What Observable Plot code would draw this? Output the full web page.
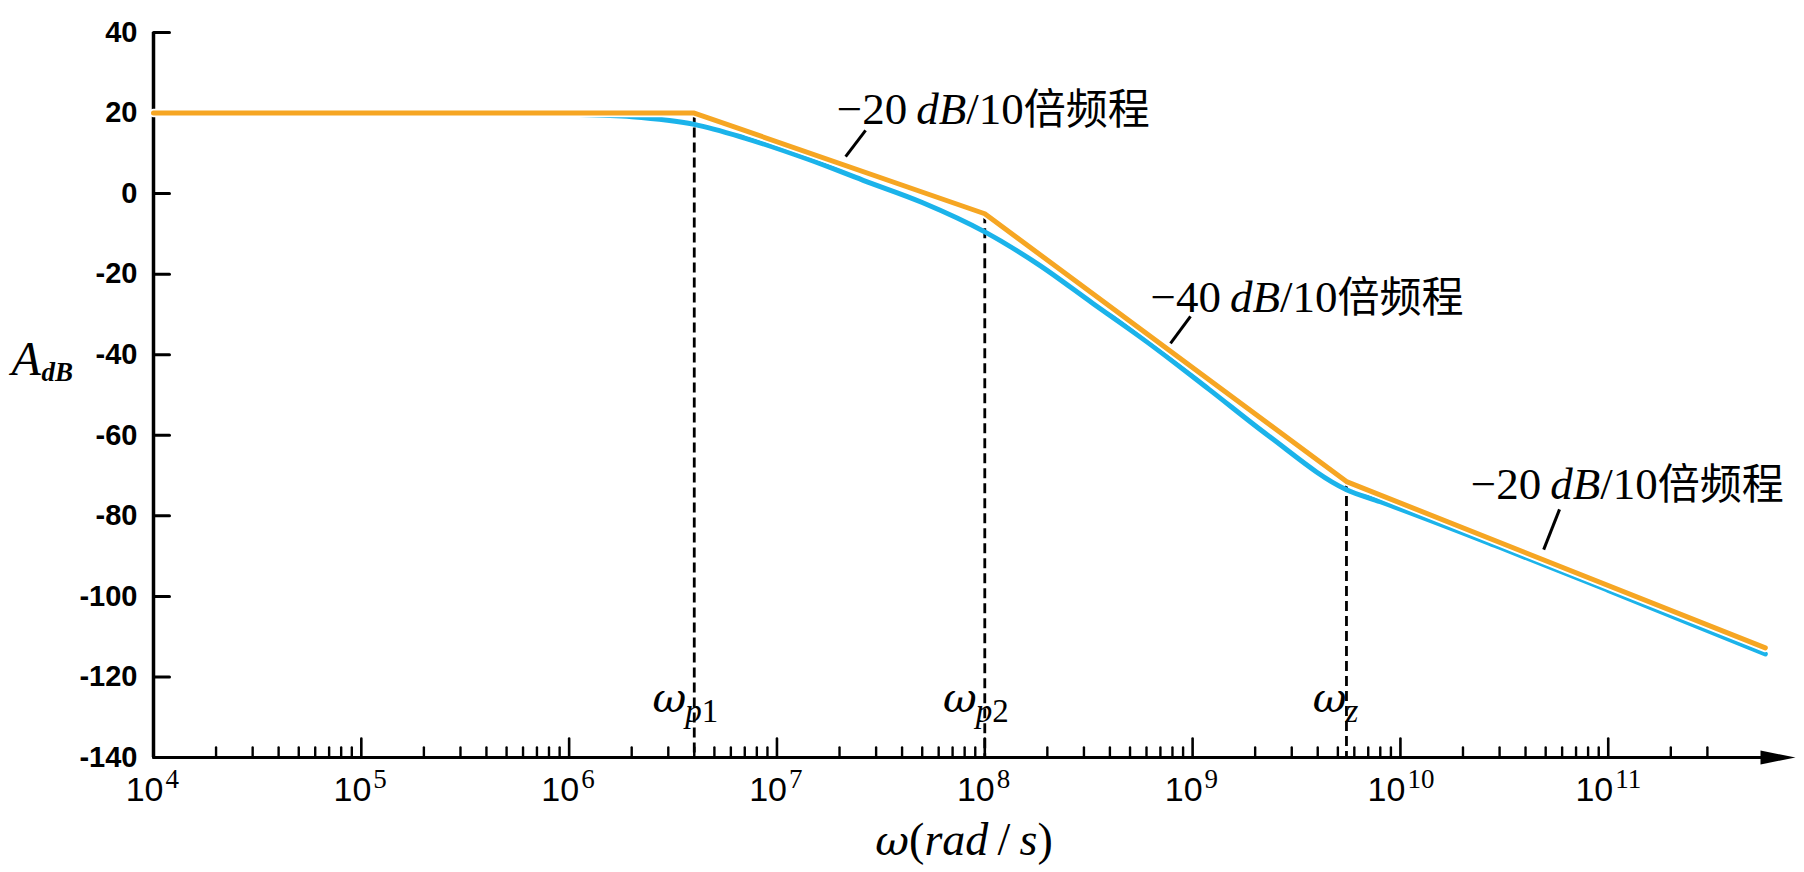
<!DOCTYPE html>
<html><head><meta charset="utf-8">
<script src="https://cdn.jsdelivr.net/npm/d3@7"></script>
<script src="https://cdn.jsdelivr.net/npm/@observablehq/plot@0.6"></script>
<style>body{margin:0;background:#fff}</style>
</head><body><div id="chart"></div>
<script>
// ---- data ----
const asymptoteW  = [1e4, 4e6, 1e8, 5.5e9, 5.7e11];
const asymptoteDB = [20, 20, -5, -71.5, -112.8];

const responseW  = [1e4, 1e5, 5e5, 1e6, 2e6, 4e6, 7e6, 1.4e7, 2.6e7, 5e7, 1e8, 1.8e8, 3.3e8, 6.3e8, 1.2e9, 2.3e9, 5.5e9, 8e9, 3e10, 1e11, 5.7e11];
const responseDB = [20, 20, 19.9, 19.7, 19.1, 17.2, 13.8, 8.6, 3.3, -2.2, -9.5, -17.5, -27.2, -37.5, -48.6, -60, -73.5, -76.5, -87.8, -98.5, -114.3];

const poleSub = ["p1", "p2", "z"];
const poleW   = [4e6, 1e8, 5.5e9];
const poleDB  = [20, -5, -71.5];

const slopeText = ["−20\u2009dB/10倍频程", "−40\u2009dB/10倍频程", "−20\u2009dB/10倍频程"];
const slopeW    = [1.94e7, 6.28e8, 2.18e10];
const slopeDB   = [17.4, -29.3, -75.7];
const leaderW1  = [2.14e7, 7.83e8, 4.89e10];
const leaderDB1 = [9.2, -37.2, -88.4];
const leaderW2  = [2.67e7, 9.77e8, 5.83e10];
const leaderDB2 = [15.7, -30.5, -78.4];

const yTicks = [40, 20, 0, -20, -40, -60, -80, -100, -120, -140];
const xMajorExp = [4, 5, 6, 7, 8, 9, 10, 11];
const xMinorMult = [2, 3, 4, 5, 6, 7, 8, 9];
const xMinorTicks = xMajorExp.slice(0, 7).flatMap(e => xMinorMult.map(m => m * 10 ** e)).concat([2e11, 3e11]);
const xLabel = "ω(rad\u2009/\u2009s)";

// ---- derived tables ----
const asym = asymptoteW.map((w, i) => ({w, db: asymptoteDB[i]}));
const resp = responseW.map((w, i) => ({w, db: responseDB[i]}));
const poles = poleSub.map((s, i) => ({s, w: poleW[i], db: poleDB[i]}));
const slopes = slopeText.map((t, i) => ({t, w: slopeW[i], db: slopeDB[i], w1: leaderW1[i], d1: leaderDB1[i], w2: leaderW2[i], d2: leaderDB2[i]}));
const majors = xMajorExp.map(e => ({e, w: 10 ** e}));

const SERIF = "'Liberation Serif', 'Times New Roman', serif";
const GREEK = "'DejaVu Serif', serif";
const SANS = "'Liberation Sans', Arial, sans-serif";
const CJK = "'Noto Sans CJK SC', sans-serif";
const ORANGE = "#F6A623";
const BLUE = "#1BB3EA";

const tickShape = {draw(context, l) { context.moveTo(0, 0); context.lineTo(0, -l); }};
const arrowHead = {draw(context) { context.moveTo(21, 0); context.lineTo(-14, -7); context.lineTo(-14, 7); context.closePath(); }};

const chart = Plot.plot({
  width: 1804, height: 872,
  marginLeft: 153, marginRight: 30, marginTop: 32, marginBottom: 115,
  x: {type: "log", domain: [1e4, 10 ** 11.8], axis: null},
  y: {domain: [-140, 40], axis: null},
  style: {background: "white", fontFamily: SANS, fontSize: "26px", color: "black"},
  marks: [
    // axes lines
    Plot.ruleX([1e4], {stroke: "black", strokeWidth: 3.5}),
    Plot.ruleY([-140], {stroke: "black", strokeWidth: 3.2, insetRight: -8}),
    Plot.dot([0], {frameAnchor: "bottom-right", symbol: arrowHead, fill: "black", stroke: "none", r: 5}),
    // y ticks
    Plot.vector(yTicks, {x: 1e4, y: d => d, length: 16, rotate: 90, anchor: "start", shape: tickShape, stroke: "black", strokeWidth: 3}),
    Plot.text(yTicks, {x: 1e4, y: d => d, text: d => String(d), textAnchor: "end", dx: -16, fontSize: 29, fontWeight: "bold", fontFamily: SANS}),
    // x ticks
    Plot.vector(majors, {x: "w", y: -140, length: 19, rotate: 0, anchor: "start", shape: tickShape, stroke: "black", strokeWidth: 2.6}),
    Plot.vector(xMinorTicks, {x: d => d, y: -140, length: 10, rotate: 0, anchor: "start", shape: tickShape, stroke: "black", strokeWidth: 2.4}),
    Plot.text(majors.filter(d => d.e < 10), {x: "w", y: -140, text: () => "10", textAnchor: "end", dx: 10, dy: 43, lineAnchor: "bottom", fontSize: 34, fontFamily: SANS}),
    Plot.text(majors.filter(d => d.e < 10), {x: "w", y: -140, text: d => String(d.e), textAnchor: "start", dx: 12, dy: 30, lineAnchor: "bottom", fontSize: 27, fontFamily: SERIF}),
    Plot.text(majors.filter(d => d.e >= 10), {x: "w", y: -140, text: () => "10", textAnchor: "end", dx: 5, dy: 43, lineAnchor: "bottom", fontSize: 34, fontFamily: SANS}),
    Plot.text(majors.filter(d => d.e >= 10), {x: "w", y: -140, text: d => String(d.e), textAnchor: "start", dx: 7, dy: 30, lineAnchor: "bottom", fontSize: 27, fontFamily: SERIF}),
    // axis titles
    Plot.text([xLabel], {frameAnchor: "bottom", text: d => d, dy: 97, lineAnchor: "bottom", fontSize: 46, fontFamily: SERIF, ariaLabel: () => "rich-title"}),
    Plot.text(["A"], {frameAnchor: "left", text: d => d, textAnchor: "start", dx: -142, dy: -20, lineAnchor: "bottom", fontSize: 48, fontStyle: "italic", fontFamily: SERIF}),
    Plot.text(["dB"], {frameAnchor: "left", text: d => d, textAnchor: "start", dx: -112, dy: -14, lineAnchor: "bottom", fontSize: 27, fontStyle: "italic", fontWeight: "bold", fontFamily: SERIF}),
    // dashed guides
    Plot.ruleX(poles, {x: "w", y1: "db", y2: -140, stroke: "black", strokeWidth: 2.8, strokeDasharray: "10,5"}),
    // response curve
    Plot.line(resp, {x: "w", y: "db", stroke: BLUE, strokeWidth: 5, curve: "monotone-x"}),
    // asymptote with white halo
    Plot.line(asym, {x: "w", y: "db", stroke: "white", strokeWidth: 8.5, strokeLinejoin: "round"}),
    Plot.line(asym, {x: "w", y: "db", stroke: ORANGE, strokeWidth: 5, strokeLinejoin: "miter"}),
    // pole labels
    Plot.text(poles.filter(d => d.s !== "z"), {x: "w", y: -140, text: () => "ω", textAnchor: "end", dx: -8, dy: -46, lineAnchor: "bottom", fontSize: 46, fontFamily: SERIF, ariaLabel: () => "rich-omega"}),
    Plot.text(poles.filter(d => d.s !== "z"), {x: "w", y: -140, text: "s", textAnchor: "start", dx: -9, dy: -36, lineAnchor: "bottom", fontSize: 33, fontFamily: SERIF, ariaLabel: () => "rich-sub"}),
    Plot.text(poles.filter(d => d.s === "z"), {x: "w", y: -140, text: () => "ω", textAnchor: "end", dx: 0, dy: -46, lineAnchor: "bottom", fontSize: 46, fontFamily: SERIF, ariaLabel: () => "rich-omega"}),
    Plot.text(poles.filter(d => d.s === "z"), {x: "w", y: -140, text: "s", textAnchor: "start", dx: -1, dy: -36, lineAnchor: "bottom", fontSize: 33, fontFamily: SERIF, ariaLabel: () => "rich-sub"}),
    // slope annotations
    Plot.link(slopes, {x1: "w1", y1: "d1", x2: "w2", y2: "d2", stroke: "black", strokeWidth: 3}),
    Plot.text(slopes, {x: "w", y: "db", text: "t", textAnchor: "start", lineAnchor: "bottom", fontSize: 45, fontFamily: SERIF, ariaLabel: () => "rich-slope"})
  ]
});

// rich text: Greek italic (DejaVu Serif), Latin letters italic serif, CJK in Noto Sans CJK, others upright serif
function richify(svg, label, cjkSize) {
  const NS = "http://www.w3.org/2000/svg";
  const nodes = [];
  svg.querySelectorAll(`[aria-label="${label}"]`).forEach(n => {
    if (n.tagName.toLowerCase() === "text") nodes.push(n);
    else n.querySelectorAll("text").forEach(t => nodes.push(t));
  });
  nodes.forEach(t => {
    const s = t.textContent;
    t.textContent = "";
    const re = /([\u03b1-\u03c9]+)|([A-Za-z]+)|([\u3400-\u9fff]+)|([^A-Za-z\u03b1-\u03c9\u3400-\u9fff]+)/g;
    let m;
    while ((m = re.exec(s))) {
      const ts = document.createElementNS(NS, "tspan");
      ts.textContent = m[0];
      if (m[1]) { ts.setAttribute("font-style", "italic"); ts.setAttribute("font-family", GREEK); ts.setAttribute("font-size", "0.9em"); }
      else if (m[2]) { ts.setAttribute("font-style", "italic"); ts.setAttribute("font-family", SERIF); }
      else if (m[3]) { ts.setAttribute("font-style", "normal"); ts.setAttribute("font-family", CJK); if (cjkSize) ts.setAttribute("font-size", cjkSize); }
      else { ts.setAttribute("font-style", "normal"); ts.setAttribute("font-family", SERIF); }
      t.appendChild(ts);
    }
  });
}
richify(chart, "rich-title");
richify(chart, "rich-omega");
richify(chart, "rich-sub");
richify(chart, "rich-slope", 42);
document.getElementById("chart").appendChild(chart);
</script>
</body></html>
